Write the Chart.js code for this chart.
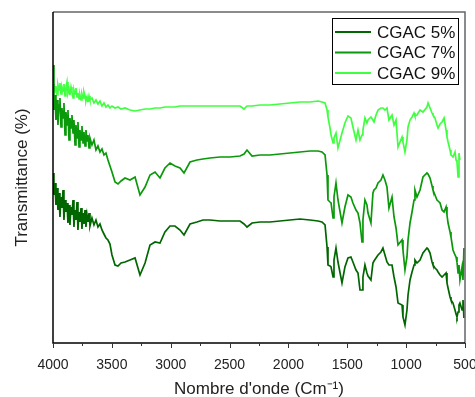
<!DOCTYPE html>
<html>
<head>
<meta charset="utf-8">
<script src="https://cdn.jsdelivr.net/npm/chart.js@4/dist/chart.umd.min.js"></script>
<style>
  body { margin: 0; background: #fff; }
</style>
</head>
<body>
<canvas id="spectre" width="475" height="397"></canvas>
<script>
// Nombre d'onde (cm-1)
const nombreOnde = [
  4000, 3992, 3983, 3975, 3966, 3958, 3949, 3941, 3932, 3924, 3915, 3907, 3898, 3890, 3881, 3873, 3864, 3856, 3847,
  3839, 3830, 3822, 3813, 3805, 3796, 3788, 3779, 3771, 3762, 3754, 3745, 3737, 3728, 3720, 3711, 3703, 3694, 3686,
  3669, 3652, 3635, 3618, 3601, 3584, 3567, 3550, 3533, 3516, 3499,
  3473, 3448, 3422, 3388, 3346, 3303, 3261, 3218, 3176, 3133,
  3091, 3049, 3006, 2964, 2921, 2887, 2836, 2777, 2726, 2666,
  2581, 2496, 2411, 2377, 2352, 2309, 2241, 2157, 2072, 1987,
  1902, 1817, 1749, 1715, 1689, 1672, 1664, 1647, 1638, 1621,
  1613, 1596, 1579, 1545, 1520, 1494, 1469, 1452, 1426, 1409,
  1392, 1375, 1367, 1350, 1333, 1324, 1299, 1282, 1273, 1256,
  1239, 1214, 1197, 1180, 1163, 1146, 1120, 1103, 1086, 1069,
  1035, 1027, 1010, 993, 984, 967, 950, 933, 925, 908,
  882, 857, 823, 814, 797, 780, 772, 755, 738, 729,
  712, 695, 678, 661, 653, 644, 627, 619, 602, 585,
  576, 568, 559, 551, 543, 525, 517, 509
];

// Transmittance (unites arbitraires)
const cgac5 = [
  170, 148, 160, 138, 155, 133, 150, 126, 146, 135, 153, 123, 143, 131, 140, 120, 138, 118, 136,
  128, 143, 116, 133, 123, 141, 113, 131, 121, 135, 114, 130, 119, 133, 116, 128, 121, 130, 117,
  125, 118, 123, 116, 119, 113, 109, 105, 103, 99, 88,
  78, 77, 80, 81, 83, 85, 68, 80, 98, 101,
  100, 111, 117, 117, 113, 108, 119, 121, 123, 123,
  122, 122, 122, 119, 116, 120, 121, 121, 122, 123,
  124, 123, 122, 121, 118, 96, 78, 77, 76, 66,
  83, 95, 81, 60, 76, 85, 86, 81, 73, 70,
  53, 53, 66, 78, 70, 67, 63, 80, 82, 85,
  88, 91, 95, 88, 81, 78, 78, 66, 56, 40,
  38, 26, 18, 33, 48, 63, 71, 78, 83, 80,
  83, 90, 95, 94, 90, 81, 78, 75, 73, 71,
  68, 66, 68, 70, 60, 55, 46, 43, 40, 33,
  29, 26, 31, 38, 40, 33, 43, 25
];

const cgac7 = [
  278, 233, 248, 223, 243, 218, 238, 245, 216, 235, 225, 240, 208, 231, 218, 233, 203, 225, 215,
  228, 210, 223, 198, 218, 205, 221, 196, 213, 203, 217, 200, 211, 197, 213, 202, 208, 195, 205,
  198, 203, 193, 197, 191, 194, 188, 190, 183, 177, 171,
  161, 159, 162, 165, 163, 166, 148, 156, 168, 171,
  165, 175, 180, 177, 175, 170, 181, 183, 184, 185,
  186, 186, 187, 189, 193, 187, 188, 188, 189, 190,
  191, 192, 192, 191, 188, 168, 143, 141, 140, 125,
  146, 160, 143, 120, 136, 148, 146, 140, 133, 130,
  120, 101, 123, 143, 138, 130, 120, 150, 153, 155,
  160, 163, 168, 163, 156, 135, 146, 126, 115, 98,
  103, 93, 73, 86, 103, 120, 131, 143, 153, 146,
  153, 166, 170, 169, 165, 157, 153, 148, 143, 142,
  140, 133, 131, 136, 128, 120, 111, 106, 93, 88,
  86, 81, 70, 78, 63, 76, 63, 95
];

const cgac9 = [
  255, 259, 251, 257, 248, 258, 253, 260, 249, 256, 252, 259, 247, 255, 261, 250, 254, 248, 256,
  251, 245, 253, 249, 255, 246, 250, 244, 248, 243, 249, 245, 251, 247, 242, 246, 241, 247, 243,
  245, 240, 243, 239, 242, 237, 240, 236, 238, 235, 237,
  235, 236, 234, 235, 233, 232, 233, 234, 234, 235,
  235, 236, 236, 236, 237, 237, 237, 237, 237, 237,
  237, 237, 237, 234, 237, 237, 238, 238, 239, 240,
  241, 241, 242, 241, 240, 233, 226, 215, 208, 200,
  205, 210, 195, 210, 220, 227, 225, 216, 203, 213,
  203, 208, 213, 225, 220, 223, 226, 223, 221, 228,
  233, 235, 235, 233, 235, 223, 228, 218, 223, 196,
  206, 201, 191, 203, 216, 223, 226, 230, 227, 228,
  233, 231, 236, 240, 235, 230, 228, 225, 218, 215,
  219, 221, 225, 213, 206, 201, 193, 188, 186, 191,
  183, 181, 166, 190, 183, null, null, null
];

const series = ["CGAC 5%", "CGAC 7%", "CGAC 9%"];
const couleurs = ["#006600", "#0a990a", "#40ff40"];
const ticksX = [4000, 3500, 3000, 2500, 2000, 1500, 1000, 500];
const ticksMineurs = [3750, 3250, 2750, 2250, 1750, 1250, 750];

const police = "'Liberation Sans', Arial, sans-serif";

function points(valeurs) {
  return nombreOnde
    .map((x, i) => ({ x: x, y: valeurs[i] }))
    .filter((p) => p.y !== null);
}

// cadre, petites graduations et legende
const cadre = {
  id: "cadre",
  afterDraw(chart) {
    const ctx = chart.ctx;
    const a = chart.chartArea;
    const sx = chart.scales.x;

    ctx.save();
    ctx.lineWidth = 1.5;
    ctx.strokeStyle = "#666";
    ctx.beginPath();
    ctx.moveTo(a.left, a.top);
    ctx.lineTo(a.right, a.top);
    ctx.lineTo(a.right, a.bottom);
    ctx.stroke();

    ctx.strokeStyle = "#000";
    ctx.beginPath();
    ctx.moveTo(a.left, a.top);
    ctx.lineTo(a.left, a.bottom);
    ctx.lineTo(a.right, a.bottom);
    ctx.stroke();

    ctx.lineWidth = 1;
    ctx.strokeStyle = "#333";
    ctx.beginPath();
    ticksX.forEach((v) => {
      const px = Math.round(sx.getPixelForValue(v)) + 0.5;
      ctx.moveTo(px, a.bottom);
      ctx.lineTo(px, a.bottom + 5);
    });
    ticksMineurs.forEach((v) => {
      const px = Math.round(sx.getPixelForValue(v)) + 0.5;
      ctx.moveTo(px, a.bottom);
      ctx.lineTo(px, a.bottom + 3);
    });
    ctx.stroke();

    // legende
    const bx = a.right - 133;
    const by = a.top + 6;
    ctx.fillStyle = "#fff";
    ctx.fillRect(bx, by, 126, 66);
    ctx.strokeStyle = "#000";
    ctx.lineWidth = 1;
    ctx.strokeRect(bx + 0.5, by + 0.5, 126, 66);
    ctx.font = "17px " + police;
    ctx.textBaseline = "middle";
    chart.data.datasets.forEach((ds, i) => {
      const y = by + 14 + i * 20.5;
      ctx.strokeStyle = ds.borderColor;
      ctx.lineWidth = 1.8;
      ctx.beginPath();
      ctx.moveTo(bx + 3, y);
      ctx.lineTo(bx + 39, y);
      ctx.stroke();
      ctx.fillStyle = "#111";
      ctx.fillText(ds.label, bx + 45, y + 1);
    });
    ctx.restore();
  },
};

new Chart(document.getElementById("spectre"), {
  type: "line",
  data: {
    datasets: [
      { label: series[0], data: points(cgac5), borderColor: couleurs[0] },
      { label: series[1], data: points(cgac7), borderColor: couleurs[1] },
      { label: series[2], data: points(cgac9), borderColor: couleurs[2] },
    ],
  },
  options: {
    responsive: false,
    animation: false,
    layout: { padding: { top: 12, right: 10, left: 0, bottom: 0 } },
    elements: {
      line: { borderWidth: 1.7, tension: 0, fill: false },
      point: { radius: 0 },
    },
    plugins: {
      legend: { display: false },
      tooltip: { enabled: false },
    },
    scales: {
      x: {
        type: "linear",
        reverse: true,
        min: 500,
        max: 4000,
        grid: { display: false, drawTicks: false },
        border: { display: false },
        afterBuildTicks(scale) {
          scale.ticks = ticksX.map((v) => ({ value: v }));
        },
        afterFit(scale) {
          scale.height = 54;
          scale.paddingLeft = 0;
          scale.paddingRight = 0;
        },
        ticks: {
          padding: 14,
          color: "#222",
          font: { family: police, size: 14 },
          callback: (v) => String(v),
        },
        title: {
          display: true,
          text: "Nombre d'onde (Cm⁻¹)",
          color: "#222",
          padding: { top: 0, bottom: -1 },
          font: { family: police, size: 17, lineHeight: 1 },
        },
      },
      y: {
        min: 0,
        max: 331,
        grid: { display: false, drawTicks: false },
        border: { display: false },
        ticks: { display: false },
        afterFit(scale) {
          scale.width = 53;
        },
        title: {
          display: true,
          text: "Transmittance (%)",
          color: "#222",
          padding: { top: 14, bottom: 0 },
          font: { family: police, size: 17, lineHeight: 1 },
        },
      },
    },
  },
  plugins: [cadre],
});
</script>
</body>
</html>
